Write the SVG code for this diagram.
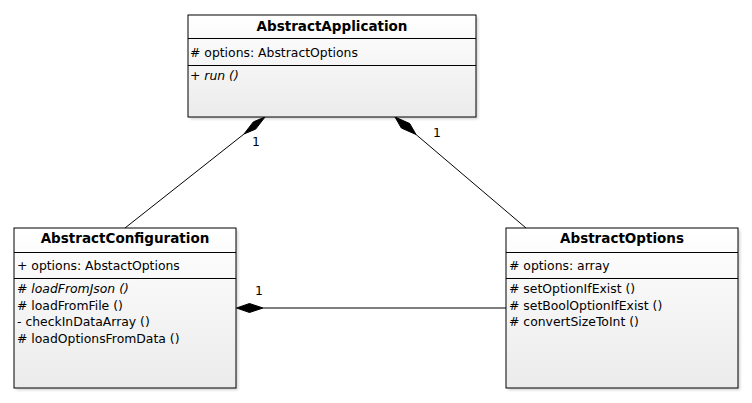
<svg xmlns="http://www.w3.org/2000/svg" width="752" height="403" viewBox="0 0 752 403">
<style>
  text { font-family: "DejaVu Sans", Verdana, sans-serif; font-size: 12.4px; fill: #000; }
  .title { font-weight: bold; text-anchor: middle; font-size: 13.5px; }
  .it { font-style: italic; }
  .box { fill: url(#g); stroke: #000; stroke-width: 1; }
  .sep { stroke: #000; stroke-width: 1; }
  .conn { stroke: #000; stroke-width: 1; fill: none; }
  .dia { fill: #000; stroke: #000; stroke-width: 1; }
</style>
<defs>
  <linearGradient id="g" x1="0" y1="0" x2="0" y2="1">
    <stop offset="0" stop-color="#ffffff"/>
    <stop offset="1" stop-color="#ebebeb"/>
  </linearGradient>
  <filter id="sh" x="-10%" y="-10%" width="120%" height="120%">
    <feGaussianBlur stdDeviation="1.5"/>
  </filter>
</defs>
<rect width="752" height="403" fill="#fff"/>

<g id="connectors">
  <line class="conn" x1="125" y1="228" x2="244" y2="134"/>
  <polygon class="dia" points="265,117 253.3,121.9 244,134 255.7,129.1"/>
  <text x="252" y="146">1</text>
  <line class="conn" x1="526" y1="228" x2="416" y2="134.5"/>
  <polygon class="dia" points="395,117 401.3,128 416,134.5 409.7,123.5"/>
  <text x="433" y="137">1</text>
  <line class="conn" x1="506" y1="308" x2="263" y2="308"/>
  <polygon class="dia" points="236.5,308 249.5,303.5 263,308 249.5,312.5"/>
  <text x="255" y="295">1</text>
</g>

<g id="AbstractApplication">
  <rect x="190" y="17" width="288" height="102" fill="#000" opacity="0.18" filter="url(#sh)"/>
  <rect class="box" x="188" y="15" width="288" height="102"/>
  <line class="sep" x1="188" y1="38.5" x2="476" y2="38.5"/>
  <line class="sep" x1="188" y1="65.5" x2="476" y2="65.5"/>
  <text class="title" x="332" y="31">AbstractApplication</text>
  <text x="190" y="56.5"># options: AbstractOptions</text>
  <text x="190" y="79.5" class="it">+ run ()</text>
</g>

<g id="AbstractConfiguration">
  <rect x="16" y="230" width="222" height="160" fill="#000" opacity="0.18" filter="url(#sh)"/>
  <rect class="box" x="14" y="228" width="222" height="160"/>
  <line class="sep" x1="14" y1="252.5" x2="236" y2="252.5"/>
  <line class="sep" x1="14" y1="278.5" x2="236" y2="278.5"/>
  <text class="title" x="125" y="243">AbstractConfiguration</text>
  <text x="17" y="270">+ options: AbstactOptions</text>
  <text x="17" y="293" class="it"># loadFromJson ()</text>
  <text x="17" y="309.5"># loadFromFile ()</text>
  <text x="17" y="326">- checkInDataArray ()</text>
  <text x="17" y="342.5"># loadOptionsFromData ()</text>
</g>

<g id="AbstractOptions">
  <rect x="508" y="230" width="232" height="160" fill="#000" opacity="0.18" filter="url(#sh)"/>
  <rect class="box" x="506" y="228" width="232" height="160"/>
  <line class="sep" x1="506" y1="252.5" x2="738" y2="252.5"/>
  <line class="sep" x1="506" y1="278.5" x2="738" y2="278.5"/>
  <text class="title" x="622" y="243">AbstractOptions</text>
  <text x="509" y="270"># options: array</text>
  <text x="509" y="293"># setOptionIfExist ()</text>
  <text x="509" y="309.5"># setBoolOptionIfExist ()</text>
  <text x="509" y="326"># convertSizeToInt ()</text>
</g>
</svg>
